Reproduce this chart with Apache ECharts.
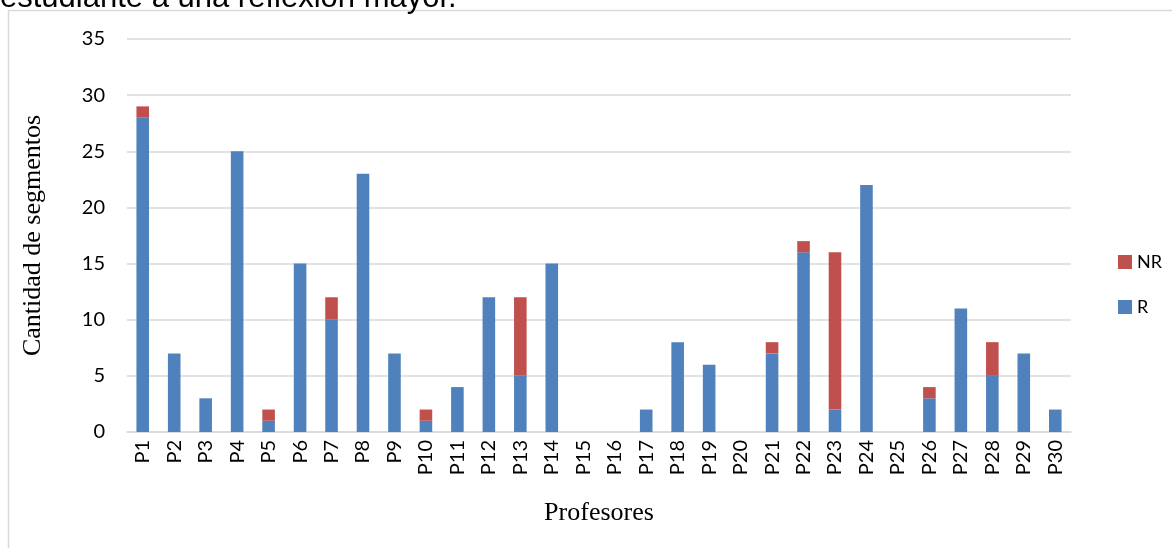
<!DOCTYPE html>
<html>
<head>
<meta charset="utf-8">
<style>
  html, body { margin: 0; padding: 0; background: #fff; }
  #chart { width: 1172px; height: 548px; }
</style>
<script src="https://cdn.jsdelivr.net/npm/echarts@6/dist/echarts.min.js"></script>
</head>
<body>
<div id="chart"></div>
<script>
// Segment counts per teacher, split into R and NR
const profesores = ['P1','P2','P3','P4','P5','P6','P7','P8','P9','P10',
  'P11','P12','P13','P14','P15','P16','P17','P18','P19','P20',
  'P21','P22','P23','P24','P25','P26','P27','P28','P29','P30'];
const valoresR  = [28, 7, 3, 25, 1, 15, 10, 23, 7, 1, 4, 12, 5, 15, 0, 0, 2, 8, 6, 0, 7, 16, 2, 22, 0, 3, 11, 5, 7, 2];
const valoresNR = [ 1, 0, 0,  0, 1,  0,  2,  0, 0, 1, 0,  0, 7,  0, 0, 0, 0, 0, 0, 0, 1,  1, 14, 0, 0, 1,  0, 3, 0, 0];
const yTicks = { min: 0, max: 35, interval: 5 };

const chart = echarts.init(document.getElementById('chart'), null, { renderer: 'canvas' });

const option = {
  backgroundColor: '#ffffff',
  animation: false,
  graphic: [
    {
      // outer frame of the chart box
      type: 'rect',
      shape: { x: 8.5, y: 10.5, width: 1300, height: 700 },
      style: { fill: 'none', stroke: '#d9d9d9', lineWidth: 1.5 },
      silent: true
    },
    {
      // tail of the preceding paragraph line
      type: 'text',
      left: 0,
      top: -17,
      style: {
        text: 'estudiante a una reflexión mayor.',
        font: '31px "Liberation Sans", Arial, sans-serif',
        fill: '#000'
      },
      silent: true
    }
  ],
  legend: {
    data: ['NR', 'R'],
    orient: 'vertical',
    left: 1113,
    top: 248,
    itemWidth: 14,
    itemHeight: 14,
    itemGap: 27,
    icon: 'rect',
    textStyle: { fontFamily: 'Lato', fontSize: 18, color: '#000' }
  },
  grid: { left: 127, right: 101, top: 39, bottom: 116, containLabel: false },
  xAxis: {
    type: 'category',
    data: profesores,
    name: 'Profesores',
    nameLocation: 'middle',
    nameGap: 68,
    nameTextStyle: { fontFamily: '"Liberation Serif", "Times New Roman", serif', fontSize: 26, color: '#000' },
    axisLine: { lineStyle: { color: '#d9d9d9', width: 1.5 } },
    axisTick: { show: false },
    axisLabel: {
      rotate: 90,
      interval: 0,
      margin: 8,
      fontFamily: 'Lato',
      fontSize: 20,
      color: '#000'
    }
  },
  yAxis: {
    type: 'value',
    min: yTicks.min,
    max: yTicks.max,
    interval: yTicks.interval,
    name: 'Cantidad de segmentos',
    nameLocation: 'middle',
    nameGap: 81,
    nameRotate: 90,
    nameTextStyle: { fontFamily: '"Liberation Serif", "Times New Roman", serif', fontSize: 26, color: '#000' },
    axisLine: { show: false },
    axisTick: { show: false },
    axisLabel: { fontFamily: 'Lato', fontSize: 20, color: '#000', margin: 22 },
    splitLine: { lineStyle: { color: '#d9d9d9', width: 1.5 } }
  },
  series: [
    {
      name: 'R',
      type: 'bar',
      stack: 'total',
      data: valoresR,
      barWidth: '40%',
      itemStyle: { color: '#4f81bd' }
    },
    {
      name: 'NR',
      type: 'bar',
      stack: 'total',
      data: valoresNR,
      barWidth: '40%',
      itemStyle: { color: '#c0504d' }
    }
  ]
};

chart.setOption(option);
</script>
</body>
</html>
